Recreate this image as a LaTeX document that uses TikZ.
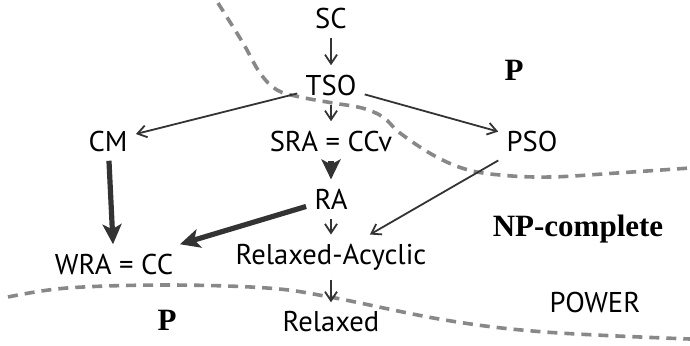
\documentclass[tikz,border=0pt]{standalone}
\usepackage{fontspec}
\setmainfont{PT Sans}
\newfontfamily\boldserif{Liberation Serif}
\usetikzlibrary{arrows.meta}
\definecolor{arrowc}{HTML}{333333}
\definecolor{dashc}{HTML}{888888}
\begin{document}
\begin{tikzpicture}[x=0.5pt,y=-0.5pt,
  lbl/.style={inner xsep=4pt, inner ysep=4.5pt, font=\fontsize{14.3}{16}\selectfont},
  region/.style={inner sep=0pt, font=\fontsize{15.5}{17}\selectfont\boldserif\bfseries},
  thin/.style={draw=arrowc, line width=0.9pt, -{Straight Barb[length=4.5pt,width=6pt]}},
  thick/.style={draw=arrowc, line width=2.6pt, -{Stealth[length=10pt,width=9.5pt,inset=2.5pt]}},
  border/.style={draw=dashc, line width=1.8pt, dash pattern=on 5pt off 3.5pt}]
\useasboundingbox (0,0) rectangle (690,345);
% boundaries
\draw[border] plot[smooth, tension=0.6] coordinates {(218,3) (243,43) (260,73) (277,90) (300,97) (333,103) (362,108) (383,117) (400,133) (433,155) (465,169) (500,175) (550,177) (617,173) (690,168)};
\draw[border] plot[smooth, tension=0.6] coordinates {(8,297) (67,288) (167,285) (267,288) (330,297) (445,320) (545,332) (690,339)};
% nodes
\node[lbl] (sc) at (331,18) {SC};
\node[lbl] (tso) at (331,85) {TSO};
\node[lbl] (sra) at (331,141) {SRA = CCv};
\node[lbl] (cm) at (108,141) {CM};
\node[lbl] (pso) at (532,141) {PSO};
\node[lbl] (ra) at (331,199) {RA};
\node[lbl] (wra) at (114,264) {WRA = CC};
\node[lbl] (rac) at (331,257) {Relaxed-Acyclic};
\node[lbl] (rel) at (331,322) {Relaxed};
\node[lbl] (power) at (595,302) {POWER};
\node[region] (ptop) at (514,70) {P};
\node[region] (np) at (578,229) {NP-complete};
\node[region] (pbot) at (167,320) {P};
% edges
\draw[thin] (sc) -- (tso);
\draw[thin] (tso) -- (sra);
\draw[thin] (tso) -- (cm);
\draw[thin] (tso) -- (pso);
\draw[thick] (cm) -- (wra);
\draw[thick] (sra) -- (ra);
\draw[thick] (ra) -- (wra);
\draw[thin] (ra) -- (rac);
\draw[thin] (pso) -- (rac);
\draw[thin] (rac) -- (rel);
\end{tikzpicture}
\end{document}
